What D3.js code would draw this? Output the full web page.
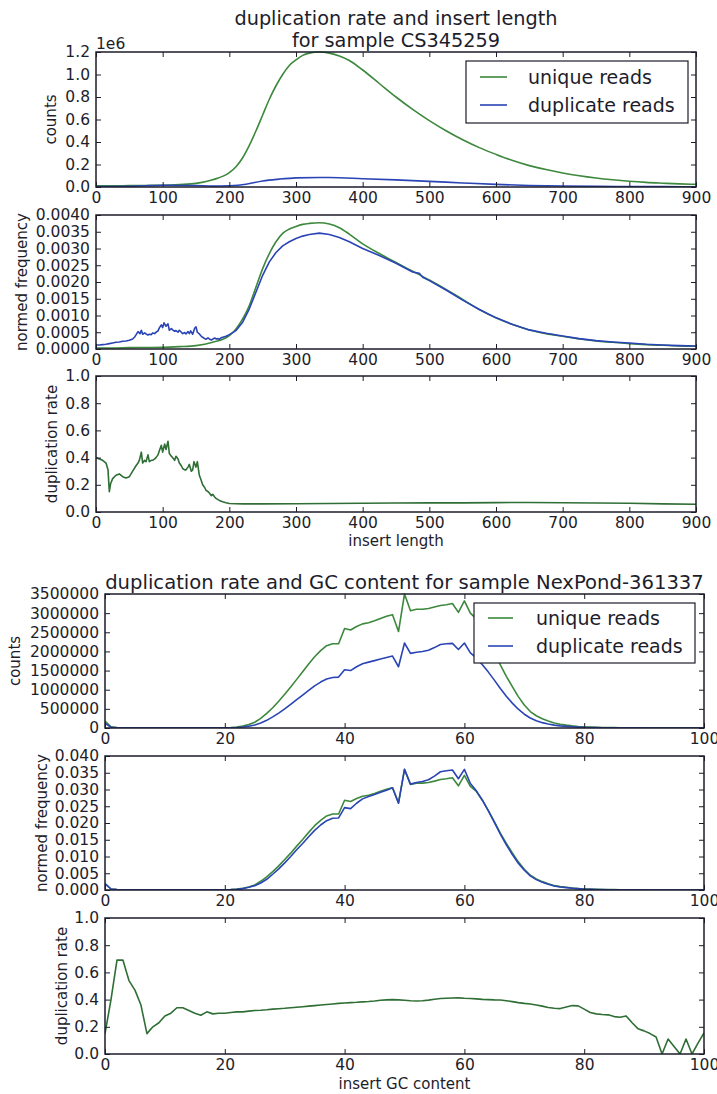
<!DOCTYPE html>
<html>
<head>
<meta charset="utf-8">
<script src="https://cdn.jsdelivr.net/npm/d3@7"></script>
<style>
  body { margin: 0; background: #fff; }
  svg { display: block; font-family: "DejaVu Sans", sans-serif; }
</style>
</head>
<body>
<svg width="717" height="1094"></svg>
<script>
// ---------- insert length data (sample CS345259) ----------
const lenX = [0, 25, 50, 75, 100, 125, 150, 175, 200, 210, 220, 230, 240, 250, 260, 270, 280, 290, 300, 310, 320, 335, 350, 365, 380, 400, 425, 450, 475, 500, 525, 550, 575, 600, 625, 650, 675, 700, 725, 750, 775, 800, 825, 850, 875, 900]
const uniqueCounts = [10000, 10000, 13000, 14000, 16000, 22000, 32000, 64000, 127000, 180000, 260000, 370000, 500000, 640000, 780000, 900000, 1000000, 1080000, 1130000, 1170000, 1190000, 1200000, 1190000, 1165000, 1125000, 1040000, 920000, 800000, 690000, 590000, 500000, 420000, 350000, 290000, 235000, 190000, 155000, 125000, 100000, 80000, 64000, 51000, 41000, 34000, 28000, 24000]
const uniqueNormed = [0.00003, 0.00003, 0.00004, 0.000045, 0.00005, 0.00007, 0.0001, 0.0002, 0.0004, 0.0006, 0.0009, 0.0013, 0.00185, 0.0024, 0.00285, 0.0032, 0.00345, 0.00358, 0.00366, 0.00372, 0.00375, 0.00377, 0.00373, 0.00362, 0.00343, 0.00314, 0.00285, 0.00258, 0.00232, 0.00206, 0.00178, 0.00148, 0.00118, 0.00093, 0.00073, 0.00057, 0.00046, 0.00038, 0.0003, 0.00024, 0.0002, 0.00016, 0.00013, 0.00011, 0.00009, 0.00008]

const dupX = [0, 50, 100, 150, 175, 200, 225, 250, 275, 300, 335, 350, 400, 450, 500, 550, 600, 650, 700, 750, 800, 850, 900]
const dupCounts = [3000, 6000, 16000, 13000, 8000, 11000, 24000, 54000, 70000, 81000, 85000, 84000, 74000, 63000, 50000, 36000, 23000, 14000, 9500, 6000, 4500, 3000, 2200]

const dupNormX = [0, 5, 10, 15, 20, 25, 30, 35, 40, 45, 50, 55, 58, 60, 63, 66, 68, 70, 73, 75, 78, 80, 83, 85, 88, 90, 93, 95, 98, 100, 102, 105, 108, 110, 113, 115, 118, 120, 123, 125, 128, 130, 133, 135, 138, 140, 142, 145, 148, 150, 152, 155, 158, 160, 163, 165, 168, 170, 173, 175, 178, 180, 183, 185, 188, 190, 195, 200, 210, 220, 230, 240, 250, 260, 270, 280, 290, 300, 310, 320, 335, 350, 365, 380, 400, 425, 450, 475, 485, 490, 500, 525, 550, 575, 600, 625, 650, 675, 700, 725, 750, 775, 800, 825, 850, 875, 900]
const dupNormed = [0.00012, 0.00012, 0.00013, 0.00014, 0.00016, 0.00018, 0.0002, 0.00021, 0.00023, 0.00024, 0.00026, 0.0003, 0.00036, 0.00042, 0.00052, 0.00046, 0.00056, 0.00044, 0.00048, 0.00045, 0.00042, 0.00044, 0.00043, 0.00048, 0.00046, 0.0005, 0.00054, 0.00063, 0.00072, 0.00064, 0.00078, 0.00068, 0.00075, 0.00056, 0.00061, 0.00057, 0.00053, 0.00055, 0.0005, 0.00056, 0.0005, 0.00046, 0.00049, 0.00045, 0.00052, 0.00046, 0.00054, 0.00044, 0.00062, 0.00066, 0.0005, 0.00045, 0.00038, 0.00035, 0.00031, 0.00029, 0.00033, 0.0003, 0.00027, 0.00029, 0.00033, 0.0003, 0.00031, 0.00029, 0.00034, 0.00035, 0.00038, 0.00043, 0.00055, 0.0008, 0.0012, 0.0017, 0.0022, 0.0026, 0.00288, 0.00308, 0.0032, 0.0033, 0.00337, 0.00342, 0.00346, 0.00342, 0.00333, 0.0032, 0.003, 0.00279, 0.00256, 0.0023, 0.00226, 0.00214, 0.00204, 0.00176, 0.00146, 0.00118, 0.00093, 0.00073, 0.00057, 0.00047, 0.00039, 0.00031, 0.00025, 0.00021, 0.00018, 0.00014, 0.00012, 0.0001, 0.00009]

const rateX = [0, 5, 10, 15, 18, 20, 22, 25, 30, 35, 40, 45, 50, 55, 60, 63, 65, 68, 70, 73, 75, 78, 80, 83, 85, 88, 90, 93, 95, 98, 100, 103, 105, 108, 110, 113, 115, 118, 120, 123, 125, 128, 130, 133, 135, 138, 140, 143, 145, 147, 150, 152, 155, 158, 160, 163, 165, 168, 170, 173, 175, 178, 180, 185, 190, 195, 200, 220, 250, 300, 350, 400, 450, 500, 550, 600, 650, 700, 750, 800, 850, 900]
const dupRate = [0.40, 0.39, 0.38, 0.36, 0.31, 0.15, 0.21, 0.245, 0.27, 0.28, 0.26, 0.25, 0.26, 0.30, 0.34, 0.36, 0.38, 0.44, 0.36, 0.38, 0.37, 0.42, 0.37, 0.38, 0.38, 0.39, 0.40, 0.42, 0.45, 0.49, 0.44, 0.50, 0.46, 0.52, 0.43, 0.41, 0.40, 0.38, 0.41, 0.39, 0.36, 0.34, 0.32, 0.31, 0.31, 0.33, 0.35, 0.30, 0.31, 0.37, 0.33, 0.37, 0.27, 0.23, 0.20, 0.18, 0.16, 0.15, 0.14, 0.12, 0.13, 0.11, 0.10, 0.085, 0.075, 0.068, 0.063, 0.060, 0.060, 0.061, 0.062, 0.064, 0.066, 0.067, 0.067, 0.069, 0.070, 0.068, 0.066, 0.064, 0.060, 0.057]

// ---------- GC content data (sample NexPond-361337) ----------
const gcX = d3.range(0, 101)
const gcUnique = [180000, 30000, 10000, 6000, 5000, 4000, 4000, 4000, 4000, 4000,
  4000, 4000, 4000, 4000, 4000, 4000, 4000, 4000, 4000, 4000,
  6000, 12000, 25000, 50000, 90000, 150000, 250000, 380000, 530000, 700000,
  880000, 1070000, 1270000, 1470000, 1670000, 1860000, 2020000, 2150000, 2200000, 2200000,
  2600000, 2560000, 2650000, 2720000, 2750000, 2800000, 2860000, 2920000, 2960000, 2520000,
  3500000, 3060000, 3100000, 3100000, 3120000, 3160000, 3200000, 3220000, 3250000, 3020000,
  3320000, 3000000, 2850000, 2600000, 2300000, 1980000, 1650000, 1350000, 1080000, 820000,
  600000, 430000, 320000, 240000, 180000, 130000, 100000, 75000, 55000, 40000,
  30000, 24000, 19000, 15000, 12000, 10000, 8000, 6000, 5000, 4000,
  3000, 2000, 2000, 2000, 2000, 2000, 2000, 2000, 2000, 2000, 2000]
const gcDup = [120000, 20000, 6000, 3000, 3000, 3000, 3000, 3000, 3000, 3000,
  3000, 3000, 3000, 3000, 3000, 3000, 3000, 3000, 3000, 3000,
  4000, 6000, 12000, 25000, 48000, 80000, 130000, 200000, 290000, 390000,
  500000, 620000, 740000, 860000, 980000, 1100000, 1200000, 1280000, 1320000, 1330000,
  1520000, 1500000, 1600000, 1680000, 1720000, 1760000, 1800000, 1840000, 1880000, 1600000,
  2220000, 1950000, 1980000, 2000000, 2030000, 2100000, 2180000, 2200000, 2210000, 2050000,
  2220000, 1960000, 1830000, 1650000, 1460000, 1250000, 1030000, 830000, 650000, 490000,
  360000, 260000, 190000, 140000, 105000, 75000, 55000, 42000, 31000, 22000,
  15000, 12000, 9000, 7000, 5000, 4000, 3000, 3000, 2000, 2000,
  2000, 1000, 1000, 1000, 1000, 1000, 1000, 1000, 1000, 1000, 1000]
const gcUniqueNormed = [0.0019, 0.0003, 0.0001, 0.00006, 0.00005, 0.00005, 0.00005, 0.00005, 0.00005, 0.00005,
  0.00004, 0.00004, 0.00004, 0.00004, 0.00004, 0.00004, 0.00004, 0.00004, 0.00004, 0.00004,
  0.00006, 0.00012, 0.00026, 0.0005, 0.0009, 0.0015, 0.0026, 0.0039, 0.0055, 0.0072,
  0.0091, 0.0110, 0.0131, 0.0151, 0.0172, 0.0192, 0.0208, 0.0221, 0.0227, 0.0227,
  0.0268, 0.0264, 0.0273, 0.0280, 0.0283, 0.0288, 0.0295, 0.0301, 0.0305, 0.0260,
  0.0360, 0.0315, 0.0319, 0.0319, 0.0321, 0.0325, 0.0330, 0.0332, 0.0335, 0.0311,
  0.0342, 0.0309, 0.0294, 0.0268, 0.0237, 0.0204, 0.0170, 0.0139, 0.0111, 0.0084,
  0.0062, 0.0044, 0.0033, 0.0025, 0.0019, 0.0013, 0.0010, 0.0008, 0.0006, 0.0004,
  0.0003, 0.00025, 0.0002, 0.00015, 0.00012, 0.0001, 0.00008, 0.00006, 0.00005, 0.00004,
  0.00003, 0.00002, 0.00002, 0.00002, 0.00002, 0.00002, 0.00002, 0.00002, 0.00002, 0.00002, 0.00002]
const gcDupNormed = [0.0019, 0.0003, 0.0001, 0.00005, 0.00005, 0.00005, 0.00005, 0.00005, 0.00005, 0.00005,
  0.00005, 0.00005, 0.00005, 0.00005, 0.00005, 0.00005, 0.00005, 0.00005, 0.00005, 0.00005,
  0.00006, 0.0001, 0.0002, 0.0004, 0.0008, 0.0013, 0.0021, 0.0032, 0.0047, 0.0063,
  0.0081, 0.0100, 0.0120, 0.0139, 0.0159, 0.0178, 0.0194, 0.0207, 0.0214, 0.0215,
  0.0246, 0.0243, 0.0259, 0.0272, 0.0279, 0.0285, 0.0292, 0.0298, 0.0305, 0.0259,
  0.0360, 0.0316, 0.0321, 0.0324, 0.0329, 0.0340, 0.0353, 0.0356, 0.0358, 0.0332,
  0.0360, 0.0318, 0.0296, 0.0268, 0.0236, 0.0202, 0.0167, 0.0135, 0.0106, 0.0080,
  0.0059, 0.0042, 0.0031, 0.0023, 0.0017, 0.0012, 0.0009, 0.0007, 0.0005, 0.0004,
  0.00024, 0.0002, 0.00015, 0.00011, 0.00008, 0.00006, 0.00005, 0.00005, 0.00003, 0.00003,
  0.00003, 0.00002, 0.00002, 0.00002, 0.00002, 0.00002, 0.00002, 0.00002, 0.00002, 0.00002, 0.00002]
const gcRate = [0.15, 0.40, 0.69, 0.69, 0.54, 0.47, 0.36, 0.15, 0.20, 0.23,
  0.28, 0.30, 0.34, 0.34, 0.32, 0.30, 0.285, 0.31, 0.295, 0.30,
  0.30, 0.305, 0.31, 0.31, 0.315, 0.32, 0.322, 0.325, 0.33, 0.333,
  0.336, 0.34, 0.344, 0.348, 0.352, 0.356, 0.36, 0.364, 0.368, 0.372,
  0.375, 0.378, 0.38, 0.383, 0.386, 0.39, 0.395, 0.398, 0.40, 0.398,
  0.395, 0.392, 0.39, 0.392, 0.396, 0.402, 0.408, 0.41, 0.412, 0.413,
  0.41, 0.408, 0.405, 0.402, 0.40, 0.398, 0.397, 0.392, 0.385, 0.378,
  0.372, 0.368, 0.36, 0.352, 0.342, 0.336, 0.334, 0.345, 0.356, 0.354,
  0.33, 0.305, 0.295, 0.29, 0.288, 0.275, 0.27, 0.28, 0.23, 0.185,
  0.17, 0.15, 0.125, 0.0, 0.11, 0.055, 0.0, 0.11, 0.0, 0.08, 0.155]

const lenTicks = d3.range(0, 901, 100)
const gcTicks = d3.range(0, 101, 20)
const legendNames = ["unique reads", "duplicate reads"]

// ---------- styling ----------
const svg = d3.select("svg")
const ink = "#1d1d2b"
const green = "#3c883c"
const blue = "#2a44b6"
const rateColor = "#2f6e35"
const tickFont = "15.5px"

let clipN = 0
function panel(o) {
  const x = d3.scaleLinear().domain(o.xDomain).range([o.left, o.right])
  const y = d3.scaleLinear().domain(o.yDomain).range([o.bottom, o.top])
  const id = "clip" + (clipN++)
  svg.append("clipPath").attr("id", id)
    .append("rect")
      .attr("x", o.left).attr("y", o.top - 1)
      .attr("width", o.right - o.left).attr("height", o.bottom - o.top + 1)

  o.series.forEach(s => {
    const line = d3.line().x(d => x(d[0])).y(d => y(d[1]))
      .curve(s.smooth ? d3.curveMonotoneX : d3.curveLinear)
    svg.append("path")
      .datum(s.x.map((v, i) => [v, s.y[i]]))
      .attr("clip-path", `url(#${id})`)
      .attr("fill", "none")
      .attr("stroke", s.color)
      .attr("stroke-width", 1.6)
      .attr("stroke-linejoin", "round")
      .attr("d", line)
  })

  const style = g => {
    g.attr("font-size", null).attr("font-family", null)
    g.select(".domain").remove()
    g.selectAll(".tick line").attr("stroke", ink).attr("stroke-width", 1)
    g.selectAll(".tick text").attr("fill", ink).style("font-size", tickFont)
  }

  svg.append("g")
    .attr("transform", `translate(0, ${o.bottom})`)
    .call(d3.axisBottom(x).tickValues(o.xTicks).tickFormat(d3.format("d"))
      .tickSizeInner(-5).tickSizeOuter(0).tickPadding(5))
    .call(style)
  svg.append("g")
    .attr("transform", `translate(${o.left}, 0)`)
    .call(d3.axisLeft(y).tickValues(o.yTicks).tickFormat(o.yFormat)
      .tickSizeInner(-5).tickSizeOuter(0).tickPadding(6))
    .call(style)
  svg.append("g")
    .attr("transform", `translate(0, ${o.top})`)
    .call(d3.axisTop(x).tickValues(o.xTicks).tickFormat("").tickSizeInner(-5).tickSizeOuter(0))
    .call(style)
  svg.append("g")
    .attr("transform", `translate(${o.right}, 0)`)
    .call(d3.axisRight(y).tickValues(o.yTicks).tickFormat("").tickSizeInner(-5).tickSizeOuter(0))
    .call(style)

  svg.append("rect")
    .attr("x", o.left).attr("y", o.top)
    .attr("width", o.right - o.left).attr("height", o.bottom - o.top)
    .attr("fill", "none").attr("stroke", ink).attr("stroke-width", 1.5)

  svg.append("text")
    .attr("transform", `translate(${o.labelX}, ${(o.top + o.bottom) / 2}) rotate(-90)`)
    .attr("text-anchor", "middle")
    .attr("dy", "0.35em")
    .attr("fill", ink)
    .style("font-size", "15px")
    .text(o.yLabel)
}

function legend(x0, y0, w, h, lineX, textX, rows) {
  svg.append("rect")
    .attr("x", x0).attr("y", y0).attr("width", w).attr("height", h)
    .attr("fill", "#fff").attr("stroke", ink).attr("stroke-width", 1.2)
  rows.forEach((r, i) => {
    svg.append("line")
      .attr("x1", lineX[0]).attr("x2", lineX[1]).attr("y1", r.y).attr("y2", r.y)
      .attr("stroke", r.color).attr("stroke-width", 1.6)
    svg.append("text")
      .attr("x", textX).attr("y", r.y).attr("dy", "0.35em")
      .attr("fill", ink).style("font-size", "19px")
      .text(legendNames[i])
  })
}

function title(lines, cx, ys, size) {
  lines.forEach((t, i) => {
    svg.append("text")
      .attr("x", cx).attr("y", ys[i]).attr("dy", "0.35em")
      .attr("text-anchor", "middle").attr("fill", ink)
      .style("font-size", size)
      .text(t)
  })
}

// ---------- top figure: insert length ----------
const topL = 96, topR = 696
title(["duplication rate and insert length", "for sample CS345259"], (topL + topR) / 2, [18, 40], "19.3px")

panel({
  left: topL, right: topR, top: 52, bottom: 187,
  xDomain: [0, 900], yDomain: [0, 1200000],
  xTicks: lenTicks, yTicks: d3.range(0, 1200001, 200000),
  yFormat: d => (d / 1e6).toFixed(1),
  yLabel: "counts", labelX: 51,
  series: [
    { x: lenX, y: uniqueCounts, color: green, smooth: true },
    { x: dupX, y: dupCounts, color: blue, smooth: true }
  ]
})
svg.append("text")
  .attr("x", topL).attr("y", 49)
  .attr("fill", ink).style("font-size", tickFont)
  .text("1e6")
legend(466, 61, 222, 62, [480, 507], 528, [{ y: 77, color: green }, { y: 105, color: blue }])

panel({
  left: topL, right: topR, top: 215, bottom: 349,
  xDomain: [0, 900], yDomain: [0, 0.004],
  xTicks: lenTicks, yTicks: d3.range(0, 9).map(i => i * 0.0005),
  yFormat: d3.format(".4f"),
  yLabel: "normed frequency", labelX: 22,
  series: [
    { x: lenX, y: uniqueNormed, color: green, smooth: true },
    { x: dupNormX, y: dupNormed, color: blue }
  ]
})

panel({
  left: topL, right: topR, top: 376, bottom: 512,
  xDomain: [0, 900], yDomain: [0, 1],
  xTicks: lenTicks, yTicks: [0, 0.2, 0.4, 0.6, 0.8, 1.0],
  yFormat: d3.format(".1f"),
  yLabel: "duplication rate", labelX: 52,
  series: [{ x: rateX, y: dupRate, color: rateColor }]
})
svg.append("text")
  .attr("x", (topL + topR) / 2).attr("y", 541).attr("dy", "0.35em")
  .attr("text-anchor", "middle").attr("fill", ink).style("font-size", "15px")
  .text("insert length")

// ---------- bottom figure: GC content ----------
const botL = 105, botR = 704
title(["duplication rate and GC content for sample NexPond-361337"], (botL + botR) / 2, [582], "19.6px")

panel({
  left: botL, right: botR, top: 594, bottom: 728,
  xDomain: [0, 100], yDomain: [0, 3500000],
  xTicks: gcTicks, yTicks: d3.range(0, 3500001, 500000),
  yFormat: d3.format("d"),
  yLabel: "counts", labelX: 15,
  series: [
    { x: gcX, y: gcUnique, color: green },
    { x: gcX, y: gcDup, color: blue }
  ]
})
legend(474, 603, 221, 60, [488, 513], 536, [{ y: 618, color: green }, { y: 646, color: blue }])

panel({
  left: botL, right: botR, top: 756, bottom: 890,
  xDomain: [0, 100], yDomain: [0, 0.04],
  xTicks: gcTicks, yTicks: d3.range(0, 9).map(i => i * 0.005),
  yFormat: d3.format(".3f"),
  yLabel: "normed frequency", labelX: 42,
  series: [
    { x: gcX, y: gcUniqueNormed, color: green },
    { x: gcX, y: gcDupNormed, color: blue }
  ]
})

panel({
  left: botL, right: botR, top: 918, bottom: 1054,
  xDomain: [0, 100], yDomain: [0, 1],
  xTicks: gcTicks, yTicks: [0, 0.2, 0.4, 0.6, 0.8, 1.0],
  yFormat: d3.format(".1f"),
  yLabel: "duplication rate", labelX: 62,
  series: [{ x: gcX, y: gcRate, color: rateColor }]
})
svg.append("text")
  .attr("x", (botL + botR) / 2).attr("y", 1084).attr("dy", "0.35em")
  .attr("text-anchor", "middle").attr("fill", ink).style("font-size", "15px")
  .text("insert GC content")
</script>
</body>
</html>
